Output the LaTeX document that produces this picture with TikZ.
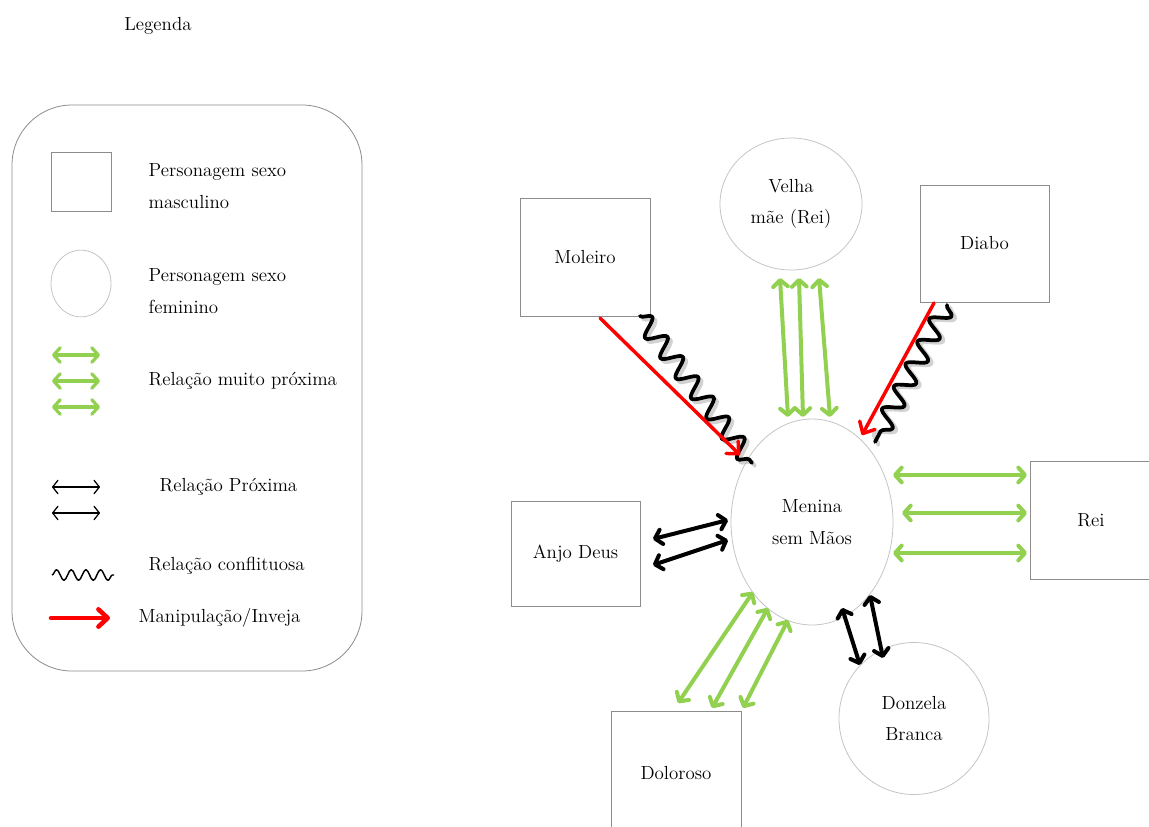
\documentclass[tikz,border=0pt]{standalone}
\usetikzlibrary{shapes.geometric,arrows.meta,decorations.pathmorphing,calc}
\definecolor{leaf}{HTML}{92D050}
\definecolor{edgegray}{HTML}{8C8C8C}
\definecolor{ringgray}{HTML}{C4C4C4}
\tikzset{
  txt/.style={font=\fontsize{14.2}{23.5}\selectfont, align=center},
  male/.style={draw=edgegray, line width=0.6pt, rectangle, inner sep=0pt, txt},
  female/.style={draw=ringgray, line width=0.6pt, ellipse, inner sep=0pt, txt},
  veryclose/.style={leaf, line width=3pt, line cap=round, {Straight Barb[round,length=5pt,width=11pt]}-{Straight Barb[round,length=5pt,width=11pt]}},
  near/.style={black, line width=3pt, line cap=round, {Straight Barb[round,length=5pt,width=11pt]}-{Straight Barb[round,length=5pt,width=11pt]}},
  nearthin/.style={black, line width=0.9pt, {Straight Barb[round,length=4pt,width=10pt]}-{Straight Barb[round,length=4pt,width=10pt]}},
  envy/.style={red, line width=2.6pt, line cap=round, -{Straight Barb[round,length=7pt,width=13pt]}},
  conflict/.style={black, line width=2.8pt, line join=round, line cap=round,
    decorate, decoration={snake, segment length=19pt, amplitude=7pt}},
  conflictshadow/.style={conflict, draw=black!35, opacity=0.5},
}
\begin{document}
\begin{tikzpicture}[x=0.75pt,y=-0.75pt]
\useasboundingbox (0,0) rectangle (1149,826);

% ---------- legend ----------
\node[txt] (title) at (158,26) {Legenda};
\node[draw=edgegray, line width=0.6pt, rounded corners=45pt, minimum width=262.5pt,
      minimum height=424.5pt] (legendbox) at (187,388) {};
\node[male, minimum width=45pt, minimum height=44.25pt] (lsq) at (81,181.5) {};
\node[female, minimum width=45pt, minimum height=50pt] (lcirc) at (81,283.5) {};
\node[txt, align=left, anchor=west] (tm) at (144,186) {Personagem sexo\\masculino};
\node[txt, align=left, anchor=west] (tf) at (144,291) {Personagem sexo\\feminino};
\node[txt, anchor=west] (tv) at (144,381) {Relação muito próxima};
\node[txt, anchor=west] (tp) at (155,487) {Relação Próxima};
\node[txt, anchor=west] (tc) at (144,566) {Relação conflituosa};
\node[txt, anchor=west] (tr) at (134,618) {Manipulação/Inveja};

\foreach \yy [count=\i] in {355,381,407}{
  \coordinate (gl\i) at (52,\yy);
  \coordinate (gr\i) at (100,\yy);
  \draw[veryclose, line width=2.4pt] (gl\i) -- (gr\i);
}
\foreach \yy [count=\i] in {487,513}{
  \coordinate (bl\i) at (52,\yy);
  \coordinate (br\i) at (100,\yy);
  \draw[nearthin] (bl\i) -- (br\i);
}
\coordinate (wl) at (52,575);
\coordinate (wr) at (114,575);
\draw[black, line width=1.1pt, line join=round, decorate,
      decoration={snake, segment length=11pt, amplitude=4pt}] (wl) -- (wr);
\coordinate (rl) at (51,618);
\coordinate (rr) at (110,618);
\draw[envy, line width=3.4pt] (rl) -- (rr);

% ---------- characters ----------
\node[female, minimum width=121.5pt, minimum height=154.5pt] (menina) at (812,522) {Menina\\sem Mãos};
\node[female, minimum width=106.5pt, minimum height=99pt] (velha) at (791,204) {Velha\\mãe (Rei)};
\node[female, minimum width=112.5pt, minimum height=114pt] (donzela) at (914,718.5) {Donzela\\Branca};
\node[male, minimum width=97.5pt, minimum height=88.5pt] (moleiro) at (585,257) {Moleiro};
\node[male, minimum width=96.75pt, minimum height=87.75pt] (diabo) at (984.5,243.5) {Diabo};
\node[male, minimum width=91.5pt, minimum height=88.5pt] (rei) at (1091,520) {Rei};
\node[male, minimum width=96.75pt, minimum height=78.75pt] (anjo) at (575.5,553.5) {Anjo Deus};
\node[male, minimum width=97.5pt, minimum height=93pt] (doloroso) at (676,773) {Doloroso};

% ---------- relations ----------
% Moleiro
\draw[conflictshadow] ($(moleiro)+(58,62)$) -- ($(menina)+(-57,-56)$);
\draw[conflict] ($(moleiro)+(55,59)$) -- ($(menina)+(-60,-59)$);
\draw[envy] ($(moleiro)+(15,61)$) -- ($(menina)+(-72,-67)$);

% Diabo
\draw[conflictshadow] ($(diabo)+(-34,64)$) -- ($(menina)+(66,-77)$);
\draw[conflict] ($(diabo)+(-37.5,61.5)$) -- ($(menina)+(63,-80)$);
\draw[envy] ($(diabo)+(-50.5,59.5)$) -- ($(menina)+(50,-87)$);

% Velha mae
\draw[veryclose] ($(velha)+(-11,74)$) -- ($(menina)+(-24,-105)$);
\draw[veryclose] ($(velha)+(8,74)$) -- ($(menina)+(-9,-105)$);
\draw[veryclose] ($(velha)+(28,74)$) -- ($(menina)+(18,-105)$);

% Rei
\draw[veryclose] ($(menina)+(81,-47)$) -- ($(rei)+(-64,-45)$);
\draw[veryclose] ($(menina)+(90,-9)$) -- ($(rei)+(-64,-7)$);
\draw[veryclose] ($(menina)+(81,31)$) -- ($(rei)+(-64,33)$);

% Anjo Deus
\draw[near] ($(anjo)+(77.5,-14.5)$) -- ($(menina)+(-84,-2)$);
\draw[near] ($(anjo)+(77.5,11.5)$) -- ($(menina)+(-84,18)$);

% Donzela Branca
\draw[near] ($(menina)+(30,86)$) -- ($(donzela)+(-54,-53.5)$);
\draw[near] ($(menina)+(58,73)$) -- ($(donzela)+(-31,-60.5)$);

% Doloroso
\draw[veryclose] ($(menina)+(-59,70)$) -- ($(doloroso)+(2,-70)$);
\draw[veryclose] ($(menina)+(-44,86)$) -- ($(doloroso)+(36,-65)$);
\draw[veryclose] ($(menina)+(-24,98)$) -- ($(doloroso)+(67,-65)$);
\end{tikzpicture}
\end{document}
